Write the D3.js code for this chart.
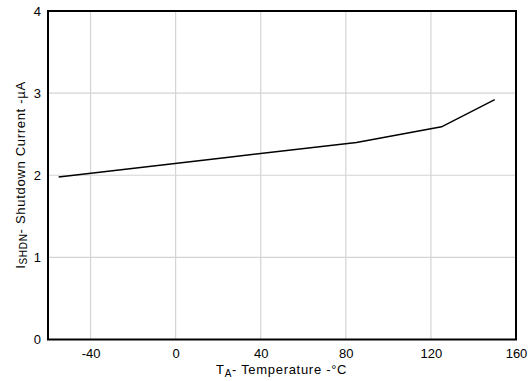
<!DOCTYPE html>
<html><head><meta charset="utf-8">
<script src="https://cdn.jsdelivr.net/npm/d3@7"></script>
<style>body{margin:0;background:#fff;} svg{display:block;font-family:"Liberation Sans",Arial,sans-serif;}</style>
</head><body>
<svg id="c" width="532" height="381"></svg>
<script>
const temps = [-55, 25, 85, 125, 150];
const current = [1.98, 2.22, 2.40, 2.59, 2.92];
const xTicks = [-40, 0, 40, 80, 120, 160];
const yTicks = [0, 1, 2, 3, 4];

const svg = d3.select("#c");
const m = {l:48, r:516, t:11, b:339.5};
const x = d3.scaleLinear().domain([-60,160]).range([m.l,m.r]);
const y = d3.scaleLinear().domain([0,4]).range([m.b,m.t]);

// grid
svg.append("g").selectAll("line").data(xTicks.filter(d=>d<160)).join("line")
  .attr("x1",d=>x(d)).attr("x2",d=>x(d)).attr("y1",m.t).attr("y2",m.b)
  .attr("stroke","#d4d4d4").attr("stroke-width",1.2);
svg.append("g").selectAll("line").data(yTicks.filter(d=>d>0&&d<4)).join("line")
  .attr("y1",d=>y(d)).attr("y2",d=>y(d)).attr("x1",m.l).attr("x2",m.r)
  .attr("stroke","#d4d4d4").attr("stroke-width",1.2);

// line
const pts = temps.map((t,i)=>[t,current[i]]);
svg.append("path").datum(pts)
  .attr("d", d3.line().x(d=>x(d[0])).y(d=>y(d[1])))
  .attr("fill","none").attr("stroke","#000").attr("stroke-width",1.5);

// frame
svg.append("rect").attr("x",m.l).attr("y",m.t).attr("width",m.r-m.l).attr("height",m.b-m.t)
  .attr("fill","none").attr("stroke","#000").attr("stroke-width",2);

const fmt = d => String(d);
// axes tick labels
const xAxis = d3.axisBottom(x).tickValues(xTicks).tickSize(0).tickPadding(9).tickFormat(fmt);
const gx = svg.append("g").attr("transform",`translate(0,${m.b})`).call(xAxis);
gx.select(".domain").remove();
gx.selectAll("text").attr("font-size","13px").attr("fill","#000").attr("font-family","Liberation Sans, Arial, sans-serif");

const yAxis = d3.axisLeft(y).tickValues(yTicks).tickSize(0).tickPadding(7).tickFormat(fmt);
const gy = svg.append("g").attr("transform",`translate(${m.l},0)`).call(yAxis);
gy.select(".domain").remove();
gy.selectAll("text").attr("font-size","13px").attr("fill","#000").attr("font-family","Liberation Sans, Arial, sans-serif");

// x title
const xt = svg.append("text").attr("x",216).attr("y",374).attr("text-anchor","start")
  .attr("font-size","13px").attr("letter-spacing","0.7px").attr("fill","#000");
xt.append("tspan").text("T");
xt.append("tspan").attr("font-size","10px").attr("dy",3).text("A");
xt.append("tspan").attr("dy",-3).text("- Temperature -°C");

// y title
const yt = svg.append("text").attr("transform",`translate(25,175) rotate(-90)`)
  .attr("text-anchor","middle").attr("font-size","13px").attr("letter-spacing","0.7px").attr("fill","#000");
yt.append("tspan").text("I");
yt.append("tspan").attr("font-size","10px").attr("dy",2).text("SHDN");
yt.append("tspan").attr("dy",-2).text("- Shutdown Current -µA");
</script>
</body></html>
